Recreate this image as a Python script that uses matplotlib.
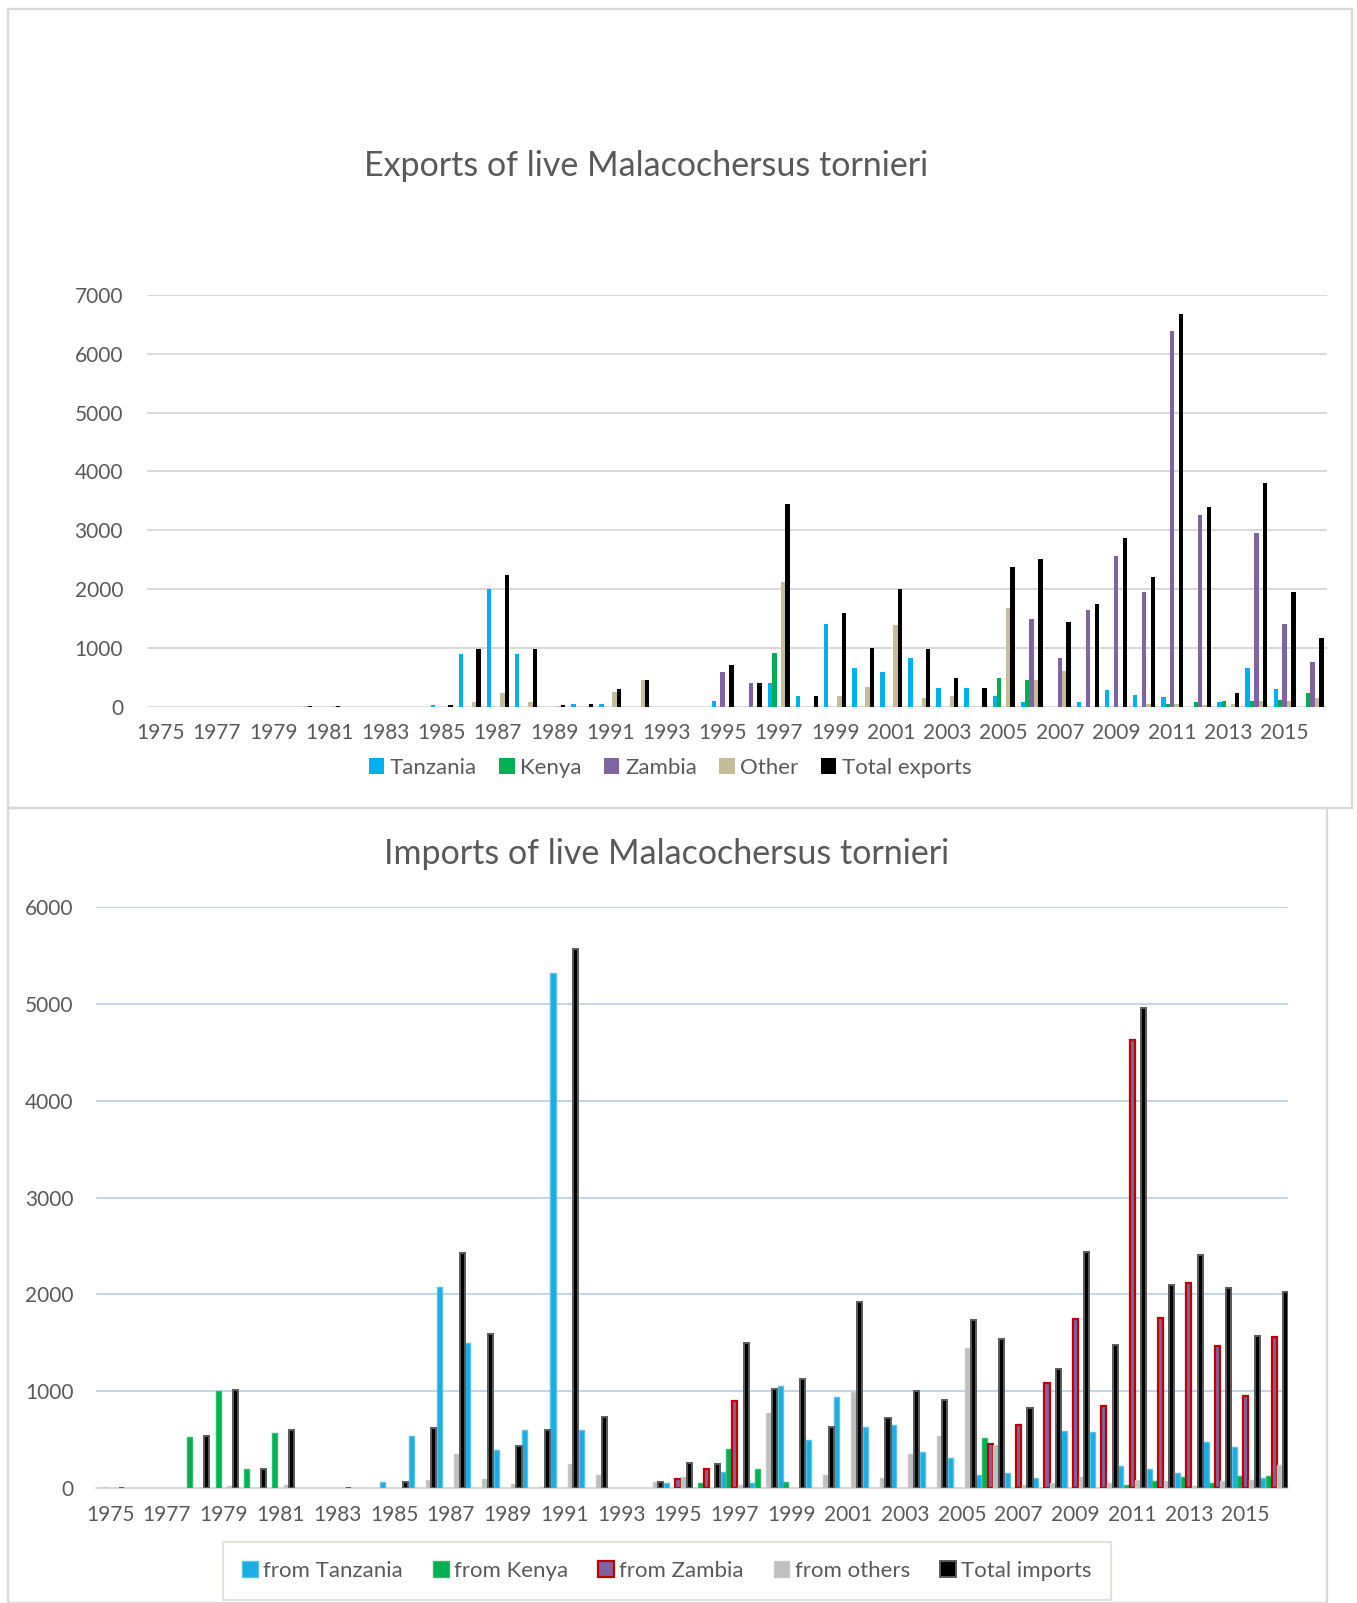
import numpy as np
import matplotlib
matplotlib.use("Agg")
import matplotlib.pyplot as plt
from matplotlib.patches import Rectangle, Patch

plt.rcParams['font.family'] = ['Lato', 'DejaVu Sans']

# years on the category axis
years = list(range(1975, 2017))

# ---- exports (top chart) ----
exp_tanzania = [0, 0, 0, 0, 0, 0, 0, 0, 0, 0,
                25, 900, 2000, 900, 0, 45, 45, 0, 0, 0,
                90, 0, 400, 180, 1405, 650, 590, 830, 310, 310,
                180, 80, 0, 85, 290, 200, 160, 0, 80, 650,
                300, 0]
exp_kenya = [0, 0, 0, 0, 0, 0, 0, 0, 0, 0,
             0, 0, 0, 0, 0, 0, 0, 0, 0, 0,
             0, 0, 905, 0, 0, 0, 0, 0, 0, 0,
             490, 455, 0, 0, 0, 0, 50, 80, 90, 95,
             110, 240]
exp_zambia = [0, 0, 0, 0, 0, 0, 0, 0, 0, 0,
              0, 0, 0, 0, 0, 0, 0, 0, 0, 0,
              590, 400, 0, 0, 0, 0, 0, 0, 0, 0,
              0, 1490, 820, 1645, 2560, 1950, 6395, 3265, 0, 2950,
              1400, 760]
exp_other = [0, 0, 0, 0, 0, 5, 10, 0, 0, 0,
             0, 75, 225, 75, 15, 0, 245, 455, 0, 0,
             0, 0, 2120, 0, 175, 340, 1395, 145, 175, 0,
             1685, 455, 600, 0, 0, 40, 45, 25, 45, 95,
             95, 145]
exp_total = [0, 0, 0, 0, 0, 5, 15, 0, 0, 0,
             25, 980, 2245, 985, 30, 45, 300, 455, 0, 0,
             705, 400, 3440, 190, 1595, 1005, 1995, 975, 495, 325,
             2380, 2510, 1435, 1740, 2870, 2210, 6685, 3395, 230, 3810,
             1945, 1160]

# ---- imports (bottom chart) ----
imp_tanzania = [0, 0, 0, 0, 0, 0, 0, 0, 0, 0,
                65, 535, 2075, 1500, 390, 595, 5320, 600, 0, 0,
                55, 0, 170, 55, 1055, 500, 935, 625, 650, 375,
                305, 135, 155, 100, 585, 575, 225, 195, 155, 470,
                420, 100]
imp_kenya = [5, 0, 0, 530, 1000, 195, 570, 0, 0, 0,
             0, 0, 0, 0, 0, 0, 0, 0, 0, 0,
             0, 55, 400, 195, 65, 0, 0, 0, 0, 0,
             0, 515, 0, 0, 0, 0, 35, 70, 110, 55,
             125, 125]
imp_zambia = [0, 0, 0, 0, 0, 0, 0, 0, 0, 0,
              0, 0, 0, 0, 0, 0, 0, 0, 0, 0,
              95, 195, 895, 0, 0, 0, 0, 0, 0, 0,
              0, 450, 650, 1080, 1750, 850, 4625, 1760, 2120, 1470,
              945, 1555]
imp_others = [5, 0, 0, 0, 20, 0, 35, 0, 5, 0,
              0, 85, 355, 95, 45, 12, 250, 135, 0, 60,
              110, 0, 35, 770, 0, 135, 990, 100, 355, 535,
              1445, 445, 30, 55, 110, 55, 80, 75, 25, 75,
              80, 240]
imp_total = [5, 0, 0, 535, 1015, 195, 600, 0, 5, 0,
             65, 615, 2425, 1590, 430, 600, 5570, 735, 0, 60,
             255, 245, 1500, 1020, 1125, 635, 1920, 720, 1005, 905,
             1740, 1535, 830, 1230, 2440, 1480, 4960, 2100, 2405, 2065,
             1565, 2020]

exp_labels = ['Tanzania', 'Kenya', 'Zambia', 'Other', 'Total exports']
imp_labels = ['from Tanzania', 'from Kenya', 'from Zambia', 'from others', 'Total imports']

W, H = 1357, 1603
fig = plt.figure(figsize=(W / 100, H / 100), dpi=100)
txt = '#595959'

# panel borders (pixel boxes)
def box(x0, y0, x1, y1):
    fig.add_artist(Rectangle((x0 / W, 1 - y1 / H), (x1 - x0) / W, (y1 - y0) / H,
                             transform=fig.transFigure, fill=False,
                             ec='#D9D9D9', lw=1.6))

box(8, 9, 1352, 808)
box(8, 808, 1327, 1603)

def make_axes(left, right, top, bottom):
    return fig.add_axes([left / W, 1 - bottom / H, (right - left) / W, (bottom - top) / H])

x = np.arange(len(years))
tick_pos = x[::2]
tick_lab = [str(y) for y in years[::2]]

# ________________________________________________________________________
# EXPORTS
ax1 = make_axes(146.7, 1326.7, 295, 706.7)
exp_series = [exp_tanzania, exp_kenya, exp_zambia, exp_other, exp_total]
exp_colors = ['#00B0F0', '#00B050', '#8064A2', '#C4BD97', '#000000']
bw = 0.157
for k, (vals, col) in enumerate(zip(exp_series, exp_colors)):
    v = np.array(vals, dtype=float)
    m = v > 0
    ax1.bar(x[m] + (k - 2) * bw, v[m], width=bw, color=col, linewidth=0, zorder=3)

ax1.set_xlim(-0.5, len(years) - 0.5)
ax1.set_ylim(0, 7000)
ax1.set_yticks(range(0, 7001, 1000))
ax1.yaxis.grid(True, color='#D9D9D9', lw=1.4, zorder=0)
ax1.set_axisbelow(True)
for s in ax1.spines.values():
    s.set_visible(False)
ax1.set_xticks(tick_pos)
ax1.set_xticklabels(tick_lab)
ax1.tick_params(length=0, labelsize=15, labelcolor=txt)
ax1.tick_params(axis='y', pad=17)
ax1.tick_params(axis='x', pad=12)
fig.text(646 / W, 1 - 166 / H, 'Exports of live Malacochersus tornieri',
         ha='center', va='center', fontsize=24.5, color=txt)
h1 = [Patch(facecolor=c, edgecolor='none') for c in exp_colors]
fig.legend(h1, exp_labels, loc='center', bbox_to_anchor=(670 / W, 1 - 768 / H),
           ncol=5, frameon=False, fontsize=16, labelcolor=txt,
           handlelength=0.7, handleheight=0.7, handletextpad=0.25,
           columnspacing=1.0)

# ________________________________________________________________________
# IMPORTS
ax2 = make_axes(96, 1288.3, 907, 1488)
imp_series = [imp_tanzania, imp_kenya, imp_zambia, imp_others, imp_total]
imp_fill = ['#1AACE3', '#00B050', '#8064A2', '#BFBFBF', '#000000']
imp_edge = ['#57C3EC', '#2BBE6E', '#C00000', '#C8C8C8', '#5A5A5A']
imp_lw = [1.0, 1.0, 1.6, 1.0, 1.4]
bw2 = 0.2
for k in range(5):
    v = np.array(imp_series[k], dtype=float)
    m = v > 0
    ax2.bar(x[m] + (k - 2) * bw2, v[m], width=bw2 * 0.9, color=imp_fill[k],
            edgecolor=imp_edge[k], linewidth=imp_lw[k], zorder=3)

ax2.set_xlim(-0.5, len(years) - 0.5)
ax2.set_ylim(0, 6000)
ax2.set_yticks(range(0, 6001, 1000))
ax2.yaxis.grid(True, color='#C5D4EA', lw=1.4, zorder=0)
ax2.set_axisbelow(True)
for s in ax2.spines.values():
    s.set_visible(False)
ax2.spines['bottom'].set_visible(True)
ax2.spines['bottom'].set_color('#D9D9D9')
ax2.spines['bottom'].set_linewidth(1.4)
ax2.set_xticks(tick_pos)
ax2.set_xticklabels(tick_lab)
ax2.tick_params(length=0, labelsize=15, labelcolor=txt)
ax2.tick_params(axis='y', pad=16)
ax2.tick_params(axis='x', pad=12)
fig.text(667 / W, 1 - 854 / H, 'Imports of live Malacochersus tornieri',
         ha='center', va='center', fontsize=24.5, color=txt)
h2 = [Patch(facecolor=f, edgecolor=e, linewidth=l)
      for f, e, l in zip(imp_fill, imp_edge, imp_lw)]
leg2 = fig.legend(h2, imp_labels, loc='center', bbox_to_anchor=(667 / W, 1 - 1571 / H),
                  ncol=5, frameon=True, fontsize=16, labelcolor=txt,
                  handlelength=0.7, handleheight=0.7, handletextpad=0.25,
                  columnspacing=1.35, fancybox=False, borderpad=0.85)
leg2.get_frame().set_edgecolor('#DDDDCC')
leg2.get_frame().set_linewidth(1.6)

fig.savefig('out.png', dpi=100)
